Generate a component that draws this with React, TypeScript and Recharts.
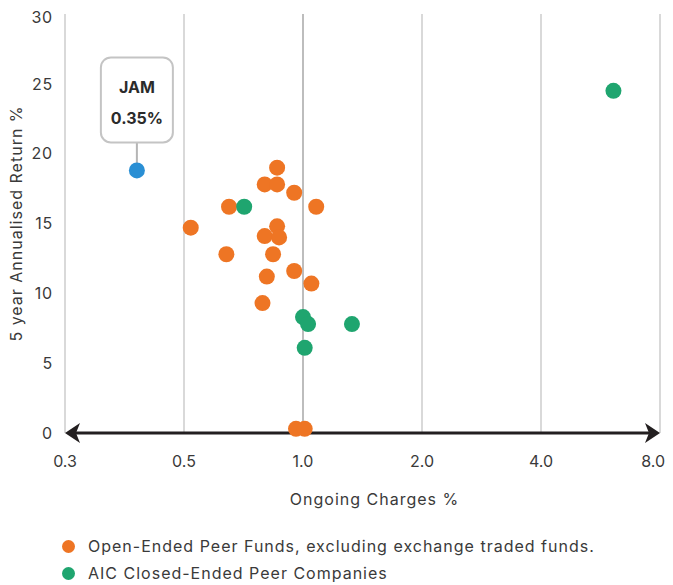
import { CartesianGrid, Label, ReferenceLine, Scatter, ScatterChart, XAxis, YAxis } from 'recharts';

const X_TICKS = [0.25, 0.5, 1, 2, 4, 8];
const X_TICK_LABELS = ['0.3', '0.5', '1.0', '2.0', '4.0', '8.0'];
const Y_TICKS = [0, 5, 10, 15, 20, 25, 30];

// open-ended peer funds (orange)
const OPEN_X = [0.86, 0.8, 0.86, 0.95, 0.65, 1.08, 0.52, 0.86, 0.8, 0.87, 0.64, 0.84, 0.95, 0.81, 1.05, 0.79, 0.96, 1.01];
const OPEN_Y = [19.0, 17.8, 17.8, 17.2, 16.2, 16.2, 14.7, 14.8, 14.1, 14.0, 12.8, 12.8, 11.6, 11.2, 10.7, 9.3, 0.3, 0.3];

// AIC closed-ended peers (green)
const CLOSED_X = [0.71, 1.0, 1.03, 1.33, 1.01, 6.1];
const CLOSED_Y = [16.2, 8.3, 7.8, 7.8, 6.1, 24.5];

const JAM_X = [0.38];
const JAM_Y = [18.8];
const JAM_LABEL = ['JAM', '0.35%'];

const ORANGE = '#ee7524';
const GREEN = '#1fa56f';
const BLUE = '#2a8fd4';
const TEXT = '#3a3a3a';
const FONT = 'Inter, "Liberation Sans", sans-serif';

const toPoints = (xs: number[], ys: number[]) => xs.map((x, i) => ({ x, y: ys[i] }));

const dot = (color: string) => (p: any) => <circle cx={p.cx} cy={p.cy} r={8} fill={color} />;

function XTick(p: any) {
    const { x, y, payload } = p;
    const idx = X_TICKS.findIndex((t) => Math.abs(t - payload.value) < 1e-6);
    // last label is pulled in so it isn't clipped at the edge
    const last = idx === X_TICKS.length - 1;
    return (
        <text
            x={last ? x + 5 : x}
            y={y}
            dy="0.71em"
            textAnchor={last ? 'end' : 'middle'}
            fontSize={16}
            fill={TEXT}
            fontFamily={FONT}
        >
            {idx >= 0 ? X_TICK_LABELS[idx] : String(payload.value)}
        </text>
    );
}

function JamShape(p: any) {
    const { cx, cy } = p;
    return (
        <g>
            <line x1={cx} y1={cy - 28} x2={cx} y2={cy - 6} stroke="#b5b5b5" strokeWidth={2} />
            <rect x={cx - 36} y={cy - 113} width={72} height={85} rx={10} fill="#fff" stroke="#c4c4c4" strokeWidth={2} />
            <text x={cx} y={cy - 77} textAnchor="middle" fontSize={16} fontWeight={700} fill="#2b2b2b" fontFamily={FONT}>
                {JAM_LABEL[0]}
            </text>
            <text x={cx} y={cy - 46} textAnchor="middle" fontSize={16} fontWeight={700} fill="#2b2b2b" fontFamily={FONT}>
                {JAM_LABEL[1]}
            </text>
            <circle cx={cx} cy={cy} r={8} fill={BLUE} />
        </g>
    );
}

function ArrowAxis(p: any) {
    const { x1, y1, x2 } = p;
    const y = y1;
    return (
        <g>
            <line x1={x1 + 3} y1={y} x2={x2 - 3} y2={y} stroke="#231f20" strokeWidth={3} />
            <path d={`M${x1} ${y} L${x1 + 15} ${y - 10} L${x1 + 11} ${y} L${x1 + 15} ${y + 10} Z`} fill="#231f20" />
            <path d={`M${x2} ${y} L${x2 - 15} ${y - 10} L${x2 - 11} ${y} L${x2 - 15} ${y + 10} Z`} fill="#231f20" />
        </g>
    );
}

export default function App() {
    return (
        <div style={{ fontFamily: FONT, color: TEXT }}>
            <ScatterChart width={665} height={505} margin={{ top: 6, right: 13, bottom: 0, left: 0 }}>
                <CartesianGrid horizontal={false} stroke="#d9d9d9" strokeWidth={2} />
                <XAxis
                    type="number"
                    dataKey="x"
                    scale="log"
                    domain={[0.25, 8]}
                    ticks={X_TICKS}
                    allowDataOverflow
                    axisLine={false}
                    tickLine={false}
                    tickSize={6}
                    tickMargin={17}
                    height={80}
                    tick={XTick}
                >
                    <Label
                        value="Ongoing Charges %"
                        position="insideBottom"
                        offset={8}
                        dx={12}
                        style={{ fontSize: 16, fill: TEXT, fontFamily: FONT, letterSpacing: 1 }}
                    />
                </XAxis>
                <YAxis
                    type="number"
                    dataKey="y"
                    domain={[0, 30]}
                    ticks={Y_TICKS}
                    width={57}
                    axisLine={false}
                    tickLine={false}
                    tickSize={6}
                    tickMargin={6}
                    tick={{ fontSize: 16, fill: TEXT, fontFamily: FONT, letterSpacing: 0.8 }}
                >
                    <Label
                        value="5 year Annualised Return %"
                        angle={-90}
                        position="insideLeft"
                        offset={8}
                        style={{ fontSize: 16, fill: TEXT, fontFamily: FONT, textAnchor: 'middle', letterSpacing: 1 }}
                    />
                </YAxis>
                <ReferenceLine x={1} stroke="#bdbdbd" strokeWidth={2} />
                <ReferenceLine y={0} shape={ArrowAxis} />
                <Scatter data={toPoints(OPEN_X, OPEN_Y)} shape={dot(ORANGE)} isAnimationActive={false} />
                <Scatter data={toPoints(CLOSED_X, CLOSED_Y)} shape={dot(GREEN)} isAnimationActive={false} />
                <Scatter data={toPoints(JAM_X, JAM_Y)} shape={JamShape} isAnimationActive={false} />
            </ScatterChart>
            <div style={{ paddingTop: 20, marginLeft: 54, fontSize: 16, lineHeight: '27px', letterSpacing: 1 }}>
                {[
                    { name: 'Open-Ended Peer Funds, excluding exchange traded funds.', color: ORANGE },
                    { name: 'AIC Closed-Ended Peer Companies', color: GREEN },
                ].map((item) => (
                    <div key={item.name} style={{ display: 'flex', alignItems: 'center' }}>
                        <span style={{ width: 13, height: 13, borderRadius: '50%', background: item.color, marginRight: 13, flexShrink: 0 }} />
                        <span>{item.name}</span>
                    </div>
                ))}
            </div>
        </div>
    );
}
